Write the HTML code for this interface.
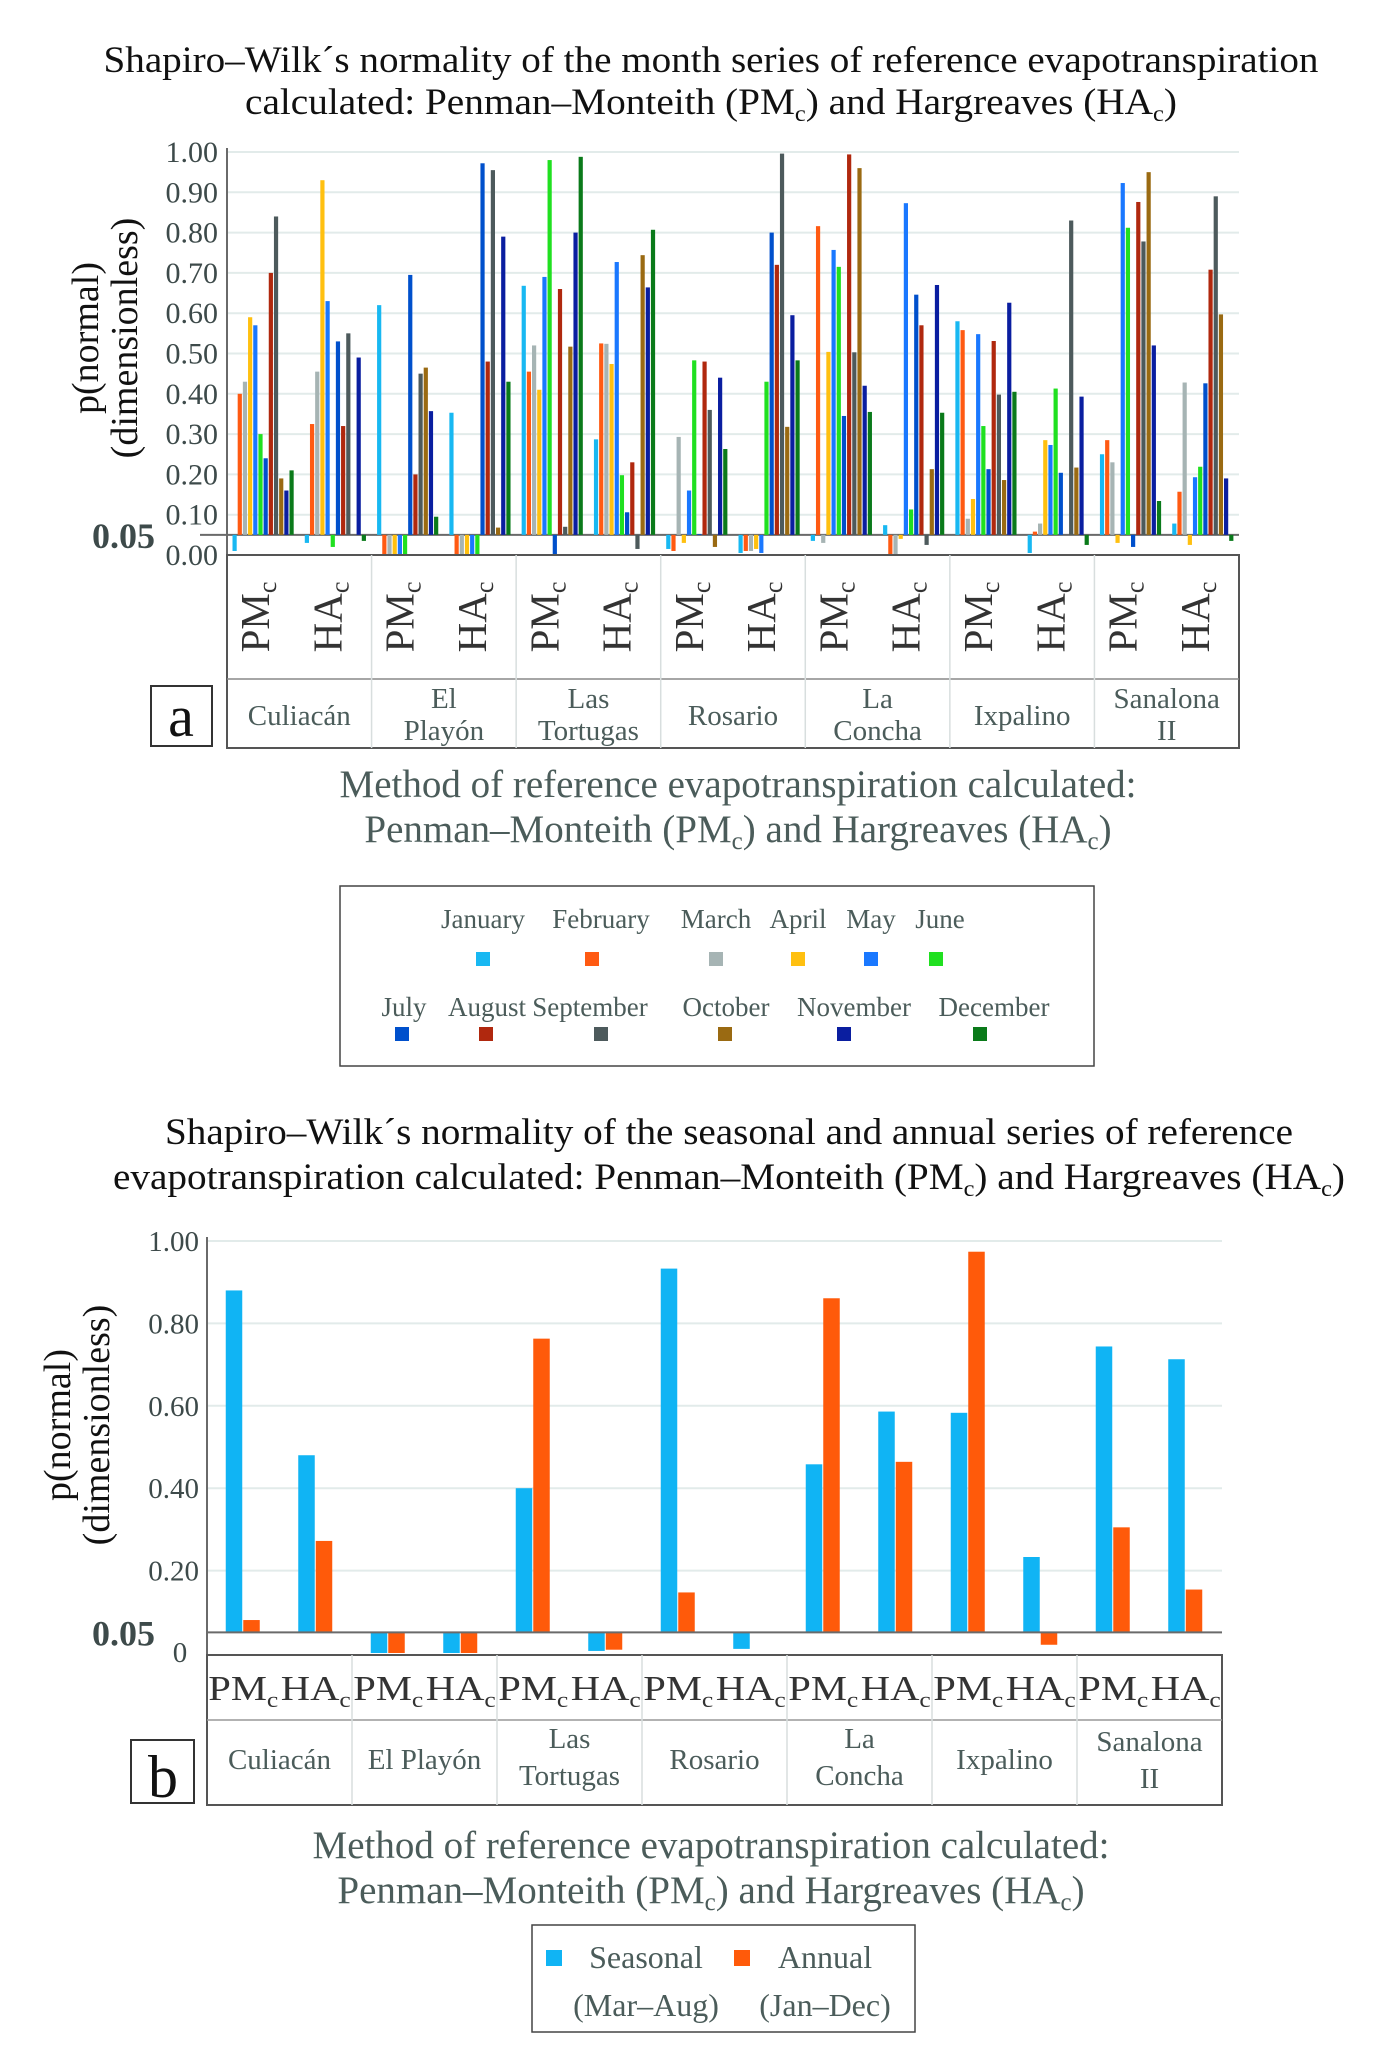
<!DOCTYPE html>
<html><head><meta charset="utf-8">
<style>
html,body{margin:0;padding:0;background:#fff;}
svg{display:block;font-family:"Liberation Serif",serif;}
</style></head>
<body>
<svg id="page" width="1379" height="2060" viewBox="0 0 1379 2060" xmlns="http://www.w3.org/2000/svg">
<g id="chartA"></g>
<g id="chartB"></g>
</svg>
<script>
// ---------- Chart A data ----------
const stations = ["Culiacán","El Playón","Las Tortugas","Rosario","La Concha","Ixpalino","Sanalona II"];
const methods = ["PM","HA"];
const months = ["January","February","March","April","May","June","July","August","September","October","November","December"];
const monthColors = ["#18b8f2","#ff5a12","#a6b4b4","#ffc010","#1a78ff","#20e020","#0050cc","#b0280e","#4d5a5c","#9a6a12","#0a1ea0","#0a7a1a"];
const ticksA = [0.00,0.10,0.20,0.30,0.40,0.50,0.60,0.70,0.80,0.90,1.00];
const culiacanPM = [0.01,0.40,0.43,0.59,0.57,0.30,0.24,0.70,0.84,0.19,0.16,0.21];
const culiacanHA = [0.03,0.325,0.455,0.93,0.63,0.02,0.53,0.32,0.55,0.05,0.49,0.035];
const playonPM = [0.62,0.0,0.0,0.0,0.0,0.0,0.695,0.20,0.45,0.465,0.357,0.095];
const playonHA = [0.353,0.0,0.0,0.0,0.0,0.0,0.972,0.48,0.955,0.068,0.79,0.43];
const tortugasPM = [0.668,0.455,0.52,0.41,0.69,0.98,0.0,0.66,0.07,0.517,0.80,0.988];
const tortugasHA = [0.287,0.525,0.524,0.474,0.727,0.198,0.106,0.23,0.015,0.744,0.664,0.807];
const rosarioPM = [0.015,0.01,0.293,0.03,0.16,0.483,0.052,0.48,0.36,0.02,0.44,0.263];
const rosarioHA = [0.005,0.01,0.01,0.015,0.005,0.43,0.80,0.72,0.996,0.318,0.595,0.483];
const conchaPM = [0.035,0.816,0.03,0.504,0.757,0.715,0.345,0.994,0.503,0.96,0.42,0.355];
const conchaHA = [0.074,0.0,0.0,0.04,0.873,0.113,0.646,0.57,0.025,0.213,0.67,0.353];
const ixpalinoPM = [0.58,0.558,0.09,0.139,0.548,0.32,0.213,0.531,0.398,0.186,0.626,0.405];
const ixpalinoHA = [0.005,0.058,0.078,0.285,0.273,0.413,0.204,0.05,0.83,0.217,0.393,0.025];
const sanalonaPM = [0.25,0.285,0.23,0.03,0.923,0.812,0.02,0.876,0.778,0.95,0.52,0.134];
const sanalonaHA = [0.078,0.157,0.428,0.025,0.193,0.219,0.426,0.708,0.89,0.597,0.19,0.035];
const groupsA = [culiacanPM,culiacanHA,playonPM,playonHA,tortugasPM,tortugasHA,rosarioPM,rosarioHA,conchaPM,conchaHA,ixpalinoPM,ixpalinoHA,sanalonaPM,sanalonaHA];

// ---------- Chart B data ----------
const seriesB = ["Seasonal","Annual"];
const seriesBSub = ["(Mar–Aug)","(Jan–Dec)"];
const seriesBColors = ["#10b4f4","#ff5a0a"];
const seasonal = [0.88,0.48,0.0,0.0,0.40,0.005,0.933,0.01,0.458,0.586,0.583,0.233,0.744,0.713];
const annual = [0.08,0.272,0.0,0.0,0.763,0.008,0.147,0.05,0.861,0.464,0.974,0.02,0.305,0.154];
const ticksB = [0.20,0.40,0.60,0.80,1.00];

const NS="http://www.w3.org/2000/svg";
function mk(parent,tag,attrs,text){const e=document.createElementNS(NS,tag);for(const k in attrs)e.setAttribute(k,attrs[k]);if(text!==undefined)e.textContent=text;parent.appendChild(e);return e;}
const gridC="#e2ebea", axisC="#6a6a6a", labC="#4b5c5a";
const SUB=(fs)=>`<tspan font-size="${fs}" dy="7">c</tspan><tspan dy="-7">`;

// ================= CHART A =================
(function(){
const g=document.getElementById('chartA');
const x0=227,x1=1239,y0=555,y1=152;
const yA=v=>y0-(y0-y1)*v;
const gw=(x1-x0)/14;
let t=mk(g,'text',{x:711,y:72,'text-anchor':'middle','font-size':37,fill:'#111',textLength:1215,lengthAdjust:'spacingAndGlyphs'},'Shapiro–Wilk´s normality of the month series of reference evapotranspiration');

t=mk(g,'text',{x:711,y:114,'text-anchor':'middle','font-size':37,fill:'#111',textLength:932,lengthAdjust:'spacingAndGlyphs'});

t.innerHTML='calculated: Penman–Monteith (PM'+SUB(23)+') and Hargreaves (HA</tspan>'+SUB(23)+')</tspan>';
ticksA.forEach(v=>{
  if(v>0){const l=mk(g,'line',{x1:x0,x2:x1,y1:yA(v),y2:yA(v),stroke:gridC,'stroke-width':2});
  }
  const tl=mk(g,'text',{x:218,y:yA(v)+10,'text-anchor':'end','font-size':30,fill:'#3d4a4a'},v.toFixed(2));
  
});
let l=mk(g,'line',{x1:x0,x2:x1,y1:yA(0),y2:yA(0),stroke:axisC,'stroke-width':2});

l=mk(g,'line',{x1:200,x2:x1,y1:yA(0.05),y2:yA(0.05),stroke:axisC,'stroke-width':2});

t=mk(g,'text',{x:92,y:yA(0.05)+13,'font-size':36,'font-weight':'bold',fill:'#3d4a4a'},'0.05');

t=mk(g,'text',{x:0,y:0,'text-anchor':'middle','font-size':38,fill:'#111',transform:'translate(98,338) rotate(-90)'},'p(normal)');

t=mk(g,'text',{x:0,y:0,'text-anchor':'middle','font-size':38,fill:'#111',transform:'translate(137,338) rotate(-90)'},'(dimensionless)');

groupsA.forEach((vals,gi)=>{
  vals.forEach((v,mi)=>{
    const x=x0+gi*gw+5.5+mi*5.18;
    const ya=yA(v),yb=yA(0.05);
    const r=mk(g,'rect',{x:x,y:Math.min(ya,yb),width:4.2,height:Math.max(Math.abs(ya-yb),0.01),fill:monthColors[mi]});
    
    
  });
});
l=mk(g,'line',{x1:x0,x2:x0,y1:y1-4,y2:748,stroke:axisC,'stroke-width':2});

const tb=mk(g,'rect',{x:x0,y:y0,width:x1-x0,height:193,fill:'none',stroke:'#555','stroke-width':2});

l=mk(g,'line',{x1:x0,x2:x1,y1:679,y2:679,stroke:'#888','stroke-width':1.5});

for(let s=1;s<7;s++){const xx=x0+s*2*gw;l=mk(g,'line',{x1:xx,x2:xx,y1:y0,y2:748,stroke:'#d8dede','stroke-width':1.5});
  }
for(let gi=0;gi<14;gi++){
  const cx=x0+gi*gw+gw/2+6;
  const m=methods[gi%2];
  t=mk(g,'text',{x:0,y:0,'text-anchor':'middle','font-size':41,fill:'#333',transform:`translate(${cx},617) rotate(-90)`});
  t.innerHTML=m+'<tspan font-size="26" dy="7">c</tspan>';
  
}
stations.forEach((s,si)=>{
  const cx=x0+si*2*gw+gw;
  const parts=s==="Culiacán"||s==="Rosario"||s==="Ixpalino"?[s]:(s==="Sanalona II"?["Sanalona","II"]:s.split(" "));
  if(parts.length===1){t=mk(g,'text',{x:cx,y:725,'text-anchor':'middle','font-size':29,fill:labC},parts[0]);}
  else{t=mk(g,'text',{x:cx,y:708,'text-anchor':'middle','font-size':29,fill:labC});
    t.innerHTML=`<tspan x="${cx}">${parts[0]}</tspan><tspan x="${cx}" dy="32">${parts[1]}</tspan>`;}
  
});
const pb=mk(g,'rect',{x:151,y:686,width:61,height:60,fill:'#fff',stroke:'#333','stroke-width':2});

t=mk(g,'text',{x:181,y:736,'text-anchor':'middle','font-size':58,fill:'#111'},'a');

t=mk(g,'text',{x:738,y:797,'text-anchor':'middle','font-size':39,fill:labC},'Method of reference evapotranspiration calculated:');

t=mk(g,'text',{x:738,y:842,'text-anchor':'middle','font-size':39,fill:labC});
t.innerHTML='Penman–Monteith (PM'+SUB(25)+') and Hargreaves (HA</tspan>'+SUB(25)+')</tspan>';

const lg=mk(g,'rect',{x:340,y:886,width:754,height:180,fill:'#fff',stroke:'#444','stroke-width':1.5});

const lblX=[483,601,716,798,871,940,404,487,590,726,854,994];
const sqX=[483,592,716,798,871,936,402,486,601,725,844,980];
months.forEach((m,i)=>{
  const row=i<6?0:1;
  const ly=row?1016:928, sy=row?1034:959;
  t=mk(g,'text',{x:lblX[i],y:ly,'text-anchor':'middle','font-size':27,fill:labC},m);
  
  const r=mk(g,'rect',{x:sqX[i]-7,y:sy-7,width:14,height:14,fill:monthColors[i]});
  
});
})();

// ================= CHART B =================
(function(){
const g=document.getElementById('chartB');
const x0=207,x1=1222,yZero=1653,yTop=1241;
const yB=v=>yZero-(yZero-yTop)*v;
const gw=(x1-x0)/14;
let t=mk(g,'text',{x:729,y:1144,'text-anchor':'middle','font-size':37,fill:'#111',textLength:1128,lengthAdjust:'spacingAndGlyphs'},'Shapiro–Wilk´s normality of the seasonal and annual series of reference');

t=mk(g,'text',{x:729,y:1189,'text-anchor':'middle','font-size':37,fill:'#111',textLength:1232,lengthAdjust:'spacingAndGlyphs'});
t.innerHTML='evapotranspiration calculated: Penman–Monteith (PM'+SUB(23)+') and Hargreaves (HA</tspan>'+SUB(23)+')</tspan>';

ticksB.forEach(v=>{
  const l=mk(g,'line',{x1:x0,x2:x1,y1:yB(v),y2:yB(v),stroke:gridC,'stroke-width':2});
  
  const tl=mk(g,'text',{x:199,y:yB(v)+10,'text-anchor':'end','font-size':29,fill:'#3d4a4a'},v.toFixed(2));
  
});
t=mk(g,'text',{x:180,y:yB(0)+9,'text-anchor':'middle','font-size':29,fill:'#3d4a4a'},'0');

t=mk(g,'text',{x:92,y:yB(0.05)+13,'font-size':36,'font-weight':'bold',fill:'#3d4a4a'},'0.05');

t=mk(g,'text',{x:0,y:0,'text-anchor':'middle','font-size':38,fill:'#111',transform:'translate(70,1425) rotate(-90)'},'p(normal)');

t=mk(g,'text',{x:0,y:0,'text-anchor':'middle','font-size':38,fill:'#111',transform:'translate(109,1425) rotate(-90)'},'(dimensionless)');

[seasonal,annual].forEach((vals,si)=>{
  vals.forEach((v,gi)=>{
    const x=x0+gi*gw+gw/2-17.5+si*17.5;
    const ya=yB(v),yb=yB(0.05);
    const r=mk(g,'rect',{x:x,y:Math.min(ya,yb),width:16.5,height:Math.max(Math.abs(ya-yb),0.01),fill:seriesBColors[si]});
    
    
  });
});
let l=mk(g,'line',{x1:x0,x2:x1,y1:yB(0.05),y2:yB(0.05),stroke:axisC,'stroke-width':2});

l=mk(g,'line',{x1:x0,x2:x0,y1:yTop-4,y2:1805,stroke:axisC,'stroke-width':2});

const tb=mk(g,'rect',{x:x0,y:1655,width:x1-x0,height:150,fill:'none',stroke:'#555','stroke-width':2});

l=mk(g,'line',{x1:x0,x2:x1,y1:1720,y2:1720,stroke:'#999','stroke-width':1.5});

for(let s=1;s<7;s++){const xx=x0+s*2*gw;l=mk(g,'line',{x1:xx,x2:xx,y1:1655,y2:1805,stroke:'#d8dede','stroke-width':1.5});
  }
for(let gi=0;gi<14;gi++){
  const cx=x0+gi*gw+gw/2;
  t=mk(g,'text',{x:cx,y:1700,'text-anchor':'middle','font-size':35,fill:'#333',textLength:70,lengthAdjust:'spacingAndGlyphs'});
  t.innerHTML=methods[gi%2]+'<tspan font-size="22" dy="7">c</tspan>';
  
}
stations.forEach((s,si)=>{
  const cx=x0+si*2*gw+gw;
  const parts=(s==="Las Tortugas"||s==="La Concha")?s.split(" "):(s==="Sanalona II"?["Sanalona","II"]:[s]);
  if(parts.length===1){t=mk(g,'text',{x:cx,y:1769,'text-anchor':'middle','font-size':29,fill:labC},parts[0]);}
  else{t=mk(g,'text',{x:cx,y:si===6?1751:1748,'text-anchor':'middle','font-size':29,fill:labC});
    t.innerHTML=`<tspan x="${cx}">${parts[0]}</tspan><tspan x="${cx}" dy="37">${parts[1]}</tspan>`;}
  
});
const pb=mk(g,'rect',{x:131,y:1740,width:63,height:63,fill:'#fff',stroke:'#333','stroke-width':2});

t=mk(g,'text',{x:163,y:1797,'text-anchor':'middle','font-size':60,fill:'#111'},'b');

t=mk(g,'text',{x:711,y:1858,'text-anchor':'middle','font-size':39,fill:labC},'Method of reference evapotranspiration calculated:');

t=mk(g,'text',{x:711,y:1903,'text-anchor':'middle','font-size':39,fill:labC});
t.innerHTML='Penman–Monteith (PM'+SUB(25)+') and Hargreaves (HA</tspan>'+SUB(25)+')</tspan>';

const lg=mk(g,'rect',{x:532,y:1925,width:383,height:107,fill:'#fff',stroke:'#444','stroke-width':1.5});

const lx=[646,825], sx=[554,742];
seriesB.forEach((s,i)=>{
  const r=mk(g,'rect',{x:sx[i]-8,y:1950,width:16,height:16,fill:seriesBColors[i]});
  
  t=mk(g,'text',{x:lx[i],y:1968,'text-anchor':'middle','font-size':32,fill:labC},s);
  
  t=mk(g,'text',{x:lx[i],y:2016,'text-anchor':'middle','font-size':32,fill:labC},seriesBSub[i]);
  
});
})();
</script>
</body></html>
